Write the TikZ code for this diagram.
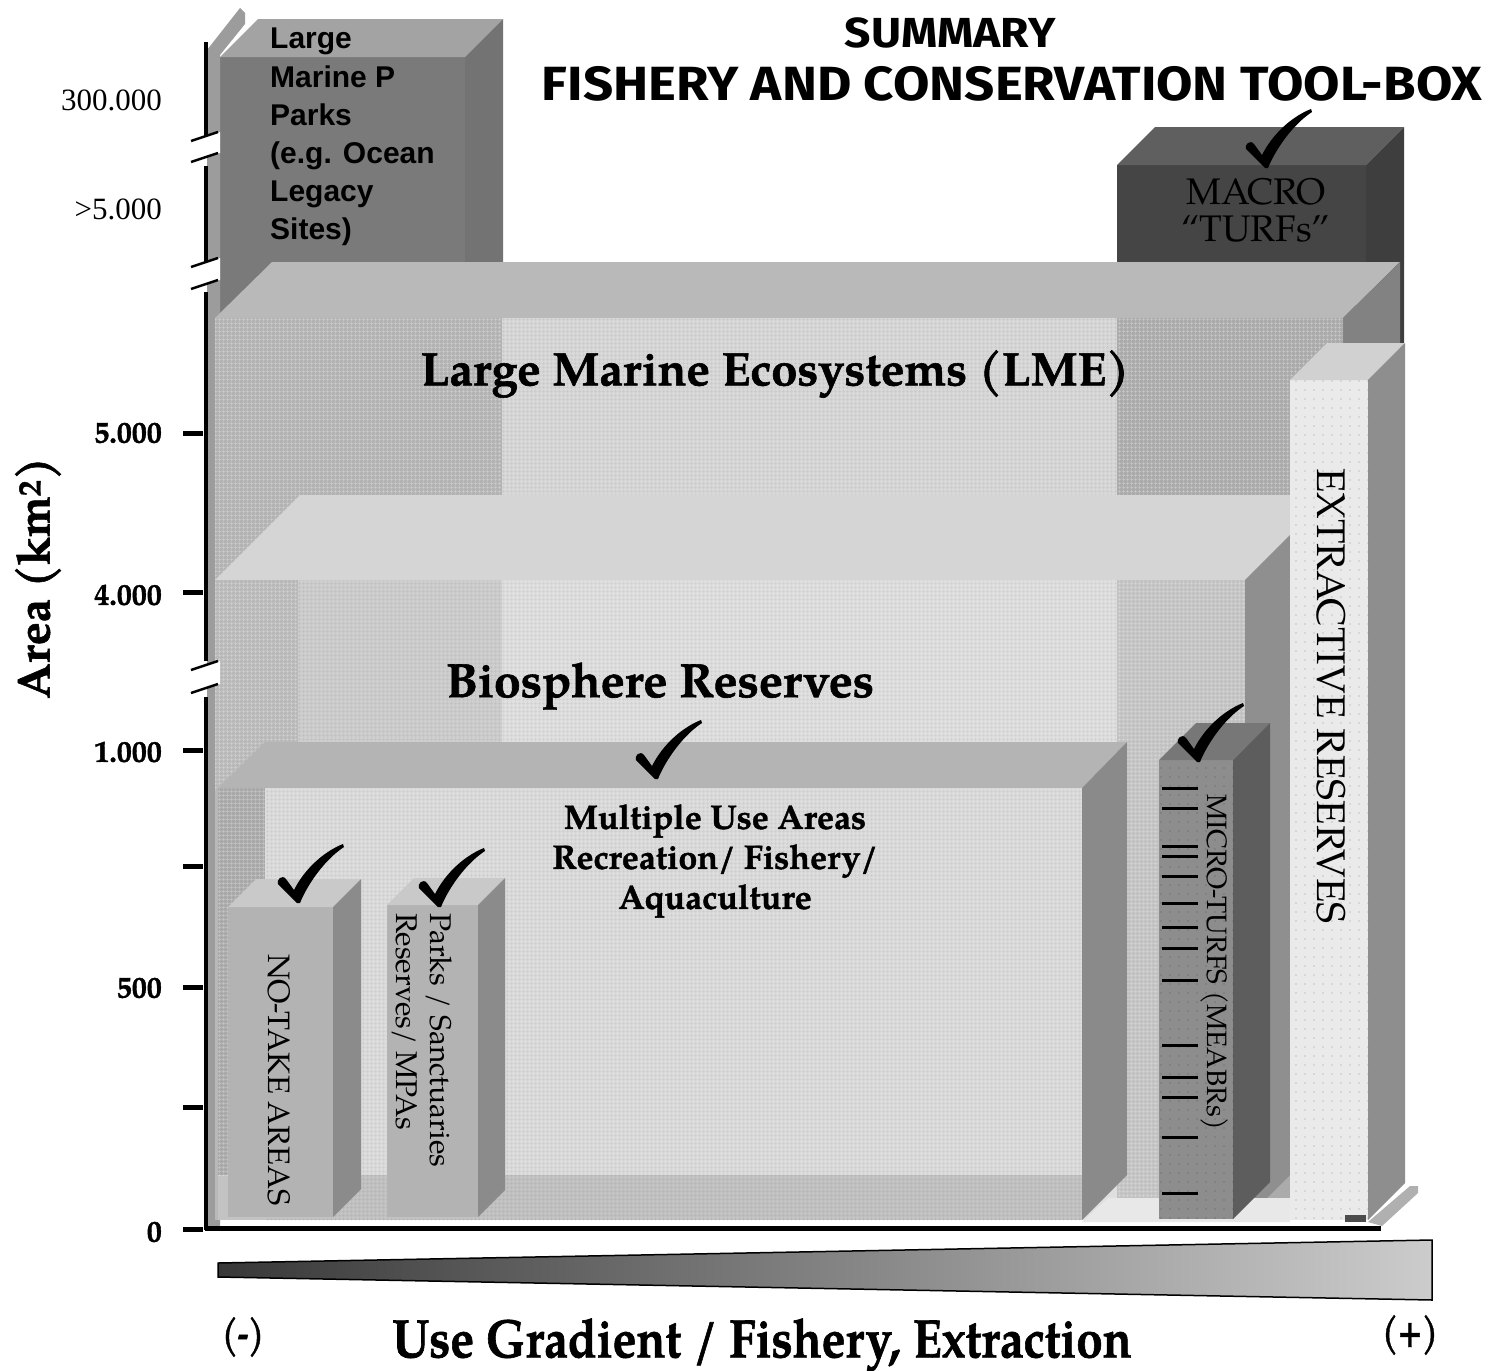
\documentclass[tikz,border=0pt]{standalone}
\usepackage{fontspec}
\setmainfont{TeX Gyre Pagella}[BoldFeatures={FakeBold=1.2}]
\newfontfamily\sansfont{Liberation Sans}
\newfontfamily\timesfont{Liberation Serif}
\newfontfamily\titlefont{Fira Sans}
\usetikzlibrary{patterns.meta}

% greys of the solids
\definecolor{lmpFront}{HTML}{7A7A7A}\definecolor{lmpTop}{HTML}{A3A3A3}\definecolor{lmpSide}{HTML}{737373}
\definecolor{macFront}{HTML}{454545}\definecolor{macTop}{HTML}{5F5F5F}\definecolor{macSide}{HTML}{3E3E3E}
\definecolor{wallGrey}{HTML}{9C9C9C}
\definecolor{lmeTop}{HTML}{B9B9B9}\definecolor{lmeSide}{HTML}{828282}
\definecolor{lmeA}{HTML}{B3B3B3}\definecolor{lmeB}{HTML}{D8D8D8}\definecolor{lmeC}{HTML}{ABABAB}
\definecolor{bioTop}{HTML}{D5D5D5}\definecolor{bioSide}{HTML}{8F8F8F}
\definecolor{bioA}{HTML}{B9B9B9}\definecolor{bioB}{HTML}{CECECE}\definecolor{bioC}{HTML}{DFDFDF}\definecolor{bioD}{HTML}{C2C2C2}
\definecolor{mulTop}{HTML}{B4B4B4}\definecolor{mulSide}{HTML}{8A8A8A}
\definecolor{mulA}{HTML}{A9A9A9}\definecolor{mulB}{HTML}{DCDCDC}\definecolor{mulFloor}{HTML}{C3C3C3}
\definecolor{ntFront}{HTML}{B3B3B3}\definecolor{ntTop}{HTML}{C9C9C9}\definecolor{ntSide}{HTML}{8B8B8B}
\definecolor{micFront}{HTML}{8D8D8D}\definecolor{micTop}{HTML}{777777}\definecolor{micSide}{HTML}{5D5D5D}
\definecolor{extFront}{HTML}{EAEAEA}\definecolor{extTop}{HTML}{D1D1D1}\definecolor{extSide}{HTML}{8E8E8E}
\definecolor{floorLight}{HTML}{E8E8E8}\definecolor{plateGrey}{HTML}{B0B0B0}

\newcommand\setfs[2]{\fontsize{#1}{#2}\selectfont}

% a solid block: left, top, right, bottom, depth, front/top/side colours
\newcommand\solidbox[8]{%
  \fill[#6] (#1,#2) rectangle (#3,#4);
  \fill[#7] (#1,#2) -- (#1+#5,#2-#5) -- (#3+#5,#2-#5) -- (#3,#2) -- cycle;
  \fill[#8] (#3,#2) -- (#3+#5,#2-#5) -- (#3+#5,#4-#5) -- (#3,#4) -- cycle;}

% check mark with its lower point at the given spot
\newcommand\checkmk[1]{%
  \fill[black,shift={(#1)}] (0,0) -- (-19,-19)
    .. controls (-21,-23) and (-15,-29) .. (-11,-24) -- (-3,-13)
    .. controls (8,-35) and (28,-52) .. (46,-59) -- (47,-56)
    .. controls (30,-45) and (12,-22) .. (3,0) -- cycle;}

% axis break: white gap between two slanted strokes
\newcommand\axbreak[2]{%
  \fill[white] (189,#1+5) -- (220,#1-5) -- (220,#2-5) -- (189,#2+5) -- cycle;
  \draw[breakline] (191,#1+4) -- (218,#1-5);
  \draw[breakline] (191,#2+4) -- (218,#2-5);}

\tikzset{
  lbl/.style={inner sep=0pt, text=black},
  tickmark/.style={line width=5pt},
  axisline/.style={line width=3.5pt},
  breakline/.style={line width=2.5pt},
  meshdark/.style={pattern={Hatch[distance=4pt, angle=0, line width=0.7pt]}, pattern color=white, fill opacity=0.35},
  meshlight/.style={pattern={Hatch[distance=4pt, angle=0, line width=0.6pt]}, pattern color=black, fill opacity=0.07},
  dotted face/.style={pattern={Dots[distance=9pt, radius=0.7pt]}, pattern color=black, fill opacity=0.35},
}

\begin{document}
\begin{tikzpicture}[x=1pt,y=-1pt]
\useasboundingbox (0,0) rectangle (1492,1371);
\fill[white] (0,0) rectangle (1492,1371);

% blocks standing behind the others
\solidbox{220}{57}{465}{1220}{38}{lmpFront}{lmpTop}{lmpSide}
\solidbox{1117}{165}{1366}{1220}{38}{macFront}{macTop}{macSide}

% side wall along the value axis
\fill[wallGrey] (207,50) -- (240,8) -- (245,13) -- (245,24) -- (220,55) -- (220,1226) -- (207,1226) -- cycle;

% Large Marine Ecosystems block
\fill[lmeTop] (215,318) -- (272,262) -- (1400,262) -- (1343,318) -- cycle;
\fill[lmeSide] (1343,318) -- (1400,262) -- (1400,1165) -- (1343,1220) -- cycle;
\fill[lmeA] (215,318) rectangle (502,1220);
\fill[lmeB] (502,318) rectangle (1117,1220);
\fill[lmeC] (1117,318) rectangle (1343,1220);
\fill[meshdark] (215,318) rectangle (502,580);
\fill[meshlight] (502,318) rectangle (1117,580);
\fill[meshdark] (1117,318) rectangle (1343,580);

% Biosphere Reserves block
\fill[bioTop] (215,580) -- (300,495) -- (1330,495) -- (1245,580) -- cycle;
\fill[bioSide] (1245,580) -- (1330,495) -- (1330,1135) -- (1245,1220) -- cycle;
\fill[bioA] (215,580) rectangle (298,1220);
\fill[bioB] (298,580) rectangle (502,1220);
\fill[bioC] (502,580) rectangle (1117,1220);
\fill[bioD] (1117,580) rectangle (1245,1220);
\fill[meshdark] (215,580) rectangle (298,790);
\fill[meshlight] (298,580) rectangle (1117,745);
\fill[meshdark] (1117,580) rectangle (1245,1198);
\fill[floorLight] (1082,1222) -- (1108,1198) -- (1290,1198) -- (1290,1222) -- cycle;

% Multiple Use Areas block
\fill[mulTop] (218,788) -- (265,742) -- (1127,742) -- (1082,788) -- cycle;
\fill[mulSide] (1082,788) -- (1127,742) -- (1127,1175) -- (1082,1220) -- cycle;
\fill[mulA] (218,788) rectangle (265,1175);
\fill[mulB] (265,788) rectangle (1082,1175);
\fill[mulFloor] (218,1175) rectangle (1082,1220);
\fill[meshdark] (218,788) rectangle (265,1175);
\fill[meshlight] (265,788) rectangle (1082,1220);

% small blocks in front
\solidbox{228}{907}{333}{1217}{28}{ntFront}{ntTop}{ntSide}
\solidbox{387}{905}{478}{1217}{27}{ntFront}{ntTop}{ntSide}
\solidbox{1159}{760}{1233}{1219}{37}{micFront}{micTop}{micSide}
\solidbox{1290}{380}{1368}{1220}{37}{extFront}{extTop}{extSide}
\fill[dotted face] (1159,760) rectangle (1233,1219);
\fill[dotted face] (1290,380) rectangle (1368,1220);

% dashes on the micro-TURF block
\foreach \yy in {788,808,846,856,876,903,927,948,980,1045,1077,1097,1137,1193}
  \draw[line width=3pt] (1162,\yy) -- (1198,\yy);

% floor plate and base line
\fill[plateGrey] (1368,1222) -- (1410,1186) -- (1418,1186) -- (1418,1193) -- (1382,1226) -- cycle;
\fill[black!70] (1345,1215) rectangle (1366,1222);
\draw[line width=5pt] (205,1228) -- (1381,1228);

% value axis
\draw[axisline] (206,42) -- (206,137);
\draw[axisline] (206,166) -- (206,265);
\draw[axisline] (206,292) -- (206,661);
\draw[axisline] (206,697) -- (206,1230);
\axbreak{137}{158}
\axbreak{263}{285}
\axbreak{666}{689}
\foreach \yy in {433,592,750,866,987,1107,1229}
  \draw[tickmark] (183,\yy) -- (203,\yy);

% tick labels
\node[lbl, anchor=east, font=\timesfont\setfs{31}{31}] (t300k) at (162,100) {300.000};
\node[lbl, anchor=east, font=\timesfont\setfs{31}{31}] (t5kplus) at (162,209) {>5.000};
\node[lbl, anchor=east, font=\bfseries\setfs{30}{30}] (t5k) at (162,433) {5.000};
\node[lbl, anchor=east, font=\bfseries\setfs{30}{30}] (t4k) at (162,595) {4.000};
\node[lbl, anchor=east, font=\bfseries\setfs{30}{30}] (t1k) at (162,752) {1.000};
\node[lbl, anchor=east, font=\bfseries\setfs{30}{30}] (t500) at (162,988) {500};
\node[lbl, anchor=east, font=\bfseries\setfs{30}{30}] (t0) at (162,1232) {0};
\node[lbl, rotate=90, font=\bfseries\setfs{46}{46}] (ylab) at (38,578) {Area (km\textsuperscript{2})};

% titles
\node[lbl, font=\titlefont\bfseries\setfs{42}{42}] (ttl1) at (950,33) {\scalebox{1.1}[1]{SUMMARY}};
\node[lbl, font=\titlefont\bfseries\setfs{48}{48}] (ttl2) at (1012,84) {\scalebox{1.1}[1]{FISHERY AND CONSERVATION TOOL-BOX}};

% labels on the blocks
\node[lbl, anchor=north west, align=left, font=\sansfont\bfseries\setfs{30}{38.2}] (lmp) at (270,28)
  {Large\\Marine P\\Parks\\(e.g. Ocean\\Legacy\\Sites)};
\node[lbl, align=center, font=\setfs{37}{37}] (macro) at (1256,210) {MACRO\\``TURFs''};
\node[lbl, font=\bfseries\setfs{47}{47}] (lme) at (775,374) {Large Marine Ecosystems (LME)};
\node[lbl, font=\bfseries\setfs{48}{48}] (bio) at (660,686) {Biosphere Reserves};
\node[lbl, align=center, font=\bfseries\setfs{34}{40}] (mult) at (715,861)
  {Multiple Use Areas\\Recreation/ Fishery/\\Aquaculture};
\node[lbl, rotate=-90, font=\setfs{31}{31}] (nota) at (279,1080) {NO-TAKE AREAS};
\node[lbl, rotate=-90, anchor=north west, align=left, font=\setfs{30}{34}] (parks) at (452,913)
  {Parks / Sanctuaries\\Reserves/ MPAs};
\node[lbl, rotate=-90, font=\setfs{28}{28}] (micro) at (1214,962) {MICRO-TURFS (MEABRs)};
\node[lbl, rotate=-90, font=\setfs{40}{40}] (extr) at (1331,696) {EXTRACTIVE RESERVES};

% check marks
\checkmk{297,903}
\checkmk{438,907}
\checkmk{655,779}
\checkmk{1265,168}
\checkmk{1197,762}

% use gradient wedge
\shadedraw[left color=black!78, right color=black!20, draw=black, line width=1.5pt]
  (218,1263) -- (1432,1240) -- (1432,1300) -- (218,1277) -- cycle;
\node[lbl, font=\bfseries\setfs{40}{40}] (minus) at (243,1337) {\scalebox{0.8}[1]{(-)}};
\node[lbl, font=\bfseries\setfs{40}{40}] (plus) at (1410,1335) {\scalebox{0.8}[1]{(+)}};
\node[lbl, font=\bfseries\setfs{54}{54}] (xlab) at (762,1345) {\scalebox{0.88}[1]{Use Gradient / Fishery, Extraction}};
\end{tikzpicture}
\end{document}
